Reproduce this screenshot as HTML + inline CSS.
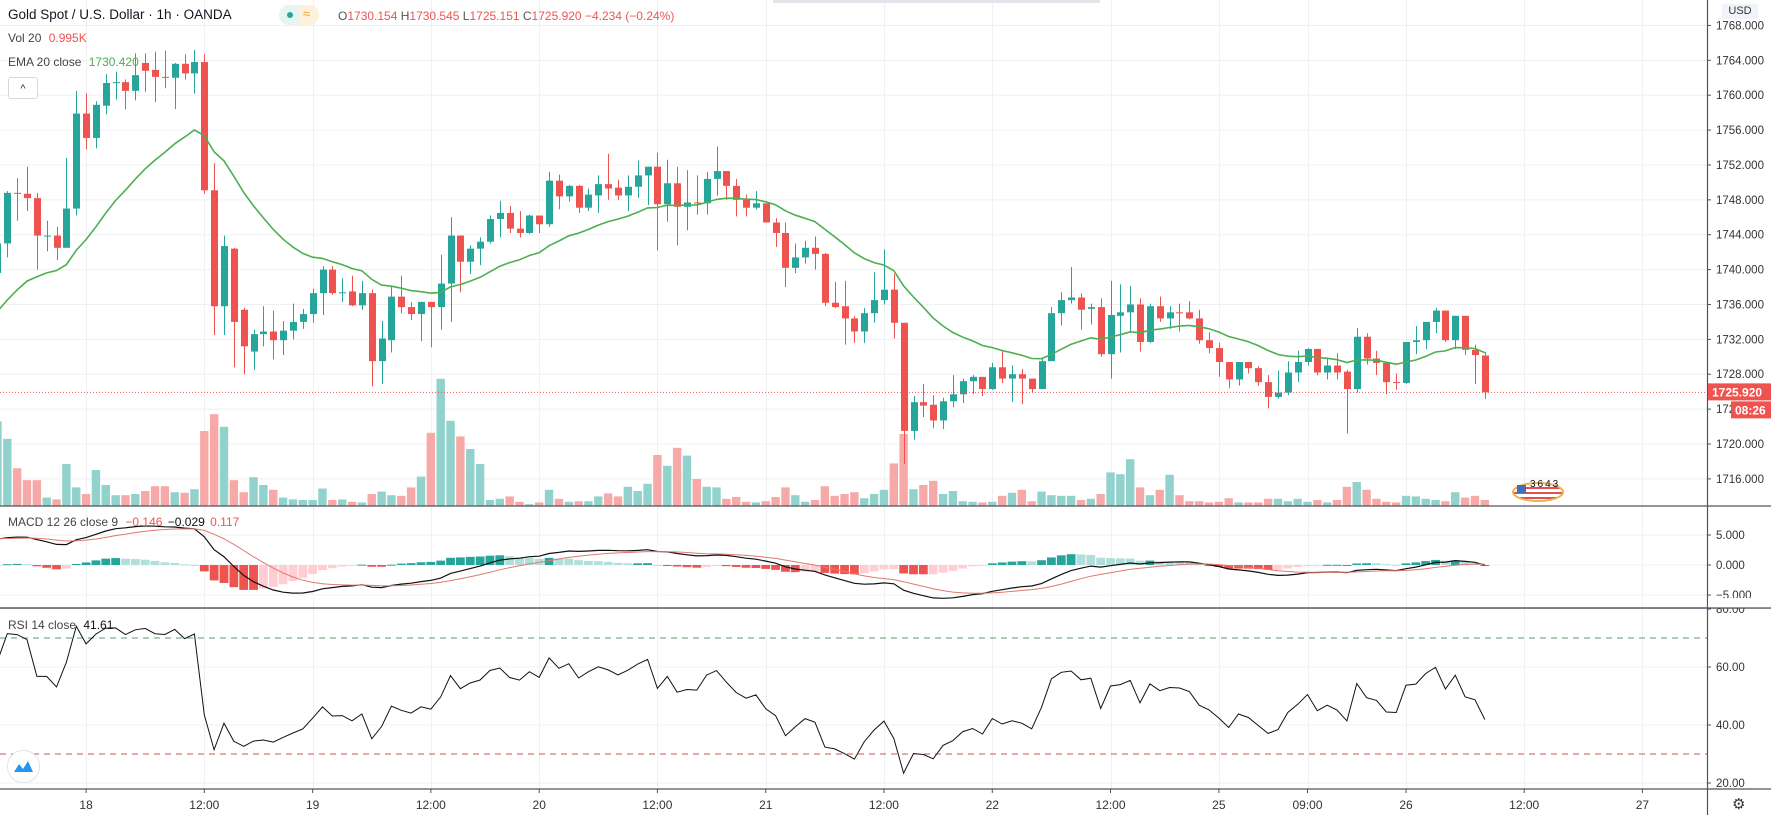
<!DOCTYPE html>
<html><head><meta charset="utf-8">
<style>
html,body{margin:0;padding:0;background:#fff;}
body{width:1771px;height:815px;overflow:hidden;position:relative;font-family:"Liberation Sans",sans-serif;}
svg{position:absolute;left:0;top:0;}
svg text{font-family:"Liberation Sans",sans-serif;}
</style></head>
<body>
<svg id="chart" width="1771" height="815" viewBox="0 0 1771 815" xmlns="http://www.w3.org/2000/svg">
  <g id="grid"></g>
  <g id="volumes"></g>
  <g id="candles"></g>
  <g id="ema"></g>
  <g id="macd"></g>
  <g id="rsi"></g>
  <g id="axes"></g>
</svg>
<script>
// ---- data (1h bars, Gold Spot / USD, OANDA) ----
const opens=[1739.6,1743.0,1748.8,1748.7,1748.2,1743.9,1743.9,1742.5,1747.0,1757.9,
1755.1,1758.8,1761.4,1761.5,1760.5,1763.7,1762.9,1762.1,1762.0,1763.6,
1762.5,1763.8,1749.1,1735.8,1742.4,1735.4,1730.6,1732.6,1732.9,1731.9,
1733.0,1734.0,1734.9,1737.3,1740.0,1737.3,1737.5,1735.9,1737.3,1729.5,
1731.9,1736.9,1735.7,1734.9,1736.3,1735.7,1738.4,1743.9,1740.9,1742.4,
1743.2,1745.8,1746.5,1744.7,1744.2,1746.2,1745.2,1750.2,1748.4,1749.6,
1747.1,1748.5,1749.8,1749.4,1748.5,1749.5,1750.8,1751.8,1747.5,1749.9,
1747.2,1747.7,1747.6,1750.4,1751.3,1749.6,1748.0,1747.1,1747.6,1745.4,
1744.2,1740.2,1741.4,1742.5,1741.8,1736.2,1735.8,1734.4,1732.9,1735.0,
1736.5,1737.7,1733.9,1721.5,1724.8,1724.5,1722.7,1724.9,1725.7,1727.2,
1727.7,1726.3,1728.8,1727.5,1728.0,1727.5,1726.3,1729.5,1735.0,1736.5,
1736.8,1735.5,1735.7,1730.3,1734.7,1735.1,1736.0,1731.7,1735.8,1734.4,
1735.1,1735.1,1734.4,1731.9,1731.0,1729.4,1727.4,1729.4,1728.7,1727.1,
1725.4,1725.9,1728.2,1729.4,1730.9,1728.2,1729.0,1728.3,1726.3,1732.3,
1729.8,1729.3,1727.1,1727.0,1731.7,1731.9,1734.0,1735.3,1731.9,1734.7,
1730.8,1730.154];
const highs=[1744.0,1749.0,1750.5,1751.8,1748.8,1745.6,1744.9,1752.8,1760.5,1760.2,
1759.3,1762.4,1762.7,1761.8,1764.8,1764.8,1765.0,1765.1,1763.7,1764.7,
1765.2,1764.7,1752.2,1743.9,1742.5,1735.6,1733.1,1735.8,1735.3,1734.1,
1736.1,1735.5,1737.8,1740.4,1740.4,1739.0,1739.3,1738.7,1737.7,1734.1,
1738.0,1739.3,1736.3,1736.3,1736.3,1741.7,1746.0,1743.9,1742.8,1743.7,
1746.2,1747.9,1747.3,1746.7,1746.3,1746.2,1751.2,1750.9,1749.7,1749.7,
1749.3,1750.8,1753.3,1750.3,1750.8,1752.5,1751.8,1753.4,1752.6,1751.8,
1751.4,1750.8,1751.2,1754.1,1751.3,1750.4,1748.6,1749.0,1747.6,1745.9,
1745.4,1743.0,1743.3,1743.8,1741.9,1738.6,1738.7,1734.7,1735.6,1739.7,
1742.3,1739.5,1733.9,1725.5,1726.9,1725.6,1725.3,1727.9,1727.5,1727.9,
1727.7,1729.3,1730.7,1729.0,1728.6,1727.5,1729.9,1735.7,1737.4,1740.3,
1737.3,1736.1,1736.7,1738.7,1738.3,1738.1,1736.7,1736.1,1736.9,1735.8,
1736.1,1736.4,1735.4,1732.8,1731.6,1729.4,1729.4,1729.4,1728.9,1727.9,
1728.4,1729.5,1730.7,1731.0,1730.9,1729.9,1730.4,1728.5,1733.3,1732.7,
1730.7,1729.3,1728.1,1731.7,1733.5,1734.0,1735.6,1735.3,1734.7,1734.7,
1731.4,1730.545];
const lows=[1738.8,1741.4,1745.6,1746.7,1740.0,1742.1,1741.1,1742.5,1746.2,1753.8,
1753.9,1757.8,1759.5,1758.4,1759.4,1760.4,1759.2,1760.8,1758.4,1761.8,
1760.2,1748.7,1732.5,1732.5,1728.8,1728.0,1728.5,1731.2,1729.7,1730.2,
1732.0,1733.2,1733.9,1734.8,1737.1,1736.3,1735.8,1735.4,1726.6,1726.9,
1730.5,1735.0,1734.2,1731.8,1731.1,1733.1,1734.0,1737.4,1739.5,1740.5,
1743.0,1743.7,1744.2,1743.7,1744.1,1744.2,1744.9,1746.9,1747.8,1746.5,
1746.7,1746.5,1748.0,1748.0,1746.7,1748.2,1747.4,1742.2,1745.5,1742.8,
1744.5,1746.3,1746.3,1748.5,1748.0,1746.1,1746.1,1746.9,1745.4,1742.6,
1738.0,1739.6,1740.7,1740.0,1735.8,1735.6,1731.4,1731.6,1731.6,1733.9,
1736.0,1732.1,1717.7,1720.5,1723.1,1721.8,1721.7,1724.2,1724.7,1725.7,
1725.5,1726.2,1727.0,1724.8,1724.6,1725.9,1726.3,1729.5,1733.6,1736.1,
1733.1,1733.7,1730.0,1727.5,1730.5,1732.9,1730.6,1731.6,1734.0,1733.2,
1732.9,1734.3,1731.5,1730.4,1727.7,1726.4,1726.7,1728.1,1726.7,1724.1,
1725.2,1725.6,1727.1,1729.0,1727.9,1727.4,1727.4,1721.2,1725.9,1729.1,
1727.9,1725.7,1726.2,1726.9,1730.3,1730.9,1732.7,1731.7,1730.9,1730.2,
1726.9,1725.151];
const closes=[1743.0,1748.8,1748.7,1748.2,1743.9,1743.9,1742.5,1747.0,1757.9,1755.1,
1758.9,1761.4,1761.5,1760.5,1762.3,1762.8,1762.1,1762.0,1763.6,1762.5,
1763.8,1749.1,1735.8,1742.7,1734.0,1731.2,1732.6,1732.9,1731.9,1733.0,
1734.0,1734.9,1737.3,1740.0,1737.3,1737.4,1735.9,1737.3,1729.5,1732.1,
1736.9,1735.7,1734.9,1736.3,1735.7,1738.4,1743.9,1740.9,1742.4,1743.2,
1745.8,1746.5,1744.7,1744.2,1746.2,1745.2,1750.2,1748.4,1749.6,1747.1,
1748.6,1749.8,1749.3,1748.5,1749.5,1750.8,1751.8,1747.5,1749.9,1747.2,
1747.7,1747.6,1750.4,1751.3,1749.6,1748.0,1747.1,1747.6,1745.4,1744.2,
1740.2,1741.4,1742.5,1741.8,1736.2,1735.7,1734.4,1732.9,1735.0,1736.5,
1737.7,1733.9,1721.5,1724.8,1724.4,1722.7,1724.9,1725.7,1727.2,1727.7,
1726.3,1728.8,1727.5,1728.0,1727.5,1726.3,1729.5,1735.0,1736.5,1736.8,
1735.4,1735.7,1730.3,1734.8,1735.1,1736.0,1731.7,1735.8,1734.4,1735.1,
1735.0,1734.4,1731.9,1731.0,1729.4,1727.4,1729.4,1728.7,1727.1,1725.4,
1725.9,1728.2,1729.4,1730.9,1728.2,1729.0,1728.2,1726.3,1732.3,1729.8,
1729.3,1727.1,1727.0,1731.7,1731.9,1734.0,1735.3,1731.9,1734.7,1730.8,
1730.2,1725.92];
const volumesK=[14.1,11.2,6.3,4.3,4.3,1.4,1.1,7.0,3.1,2.0,
6.0,3.5,1.8,1.8,2.0,2.5,3.3,3.3,2.3,2.2,
2.8,12.5,15.3,13.2,4.3,2.3,4.8,3.5,2.7,1.4,
1.1,1.0,1.0,2.9,1.0,1.1,0.7,0.6,2.0,2.4,
1.8,1.7,3.1,4.9,12.2,21.2,14.2,11.6,9.5,7.0,
1.0,1.2,1.6,0.7,0.3,0.6,2.7,1.2,0.7,0.8,
0.8,1.6,2.1,1.6,3.2,2.5,3.7,8.5,6.7,9.7,
8.4,4.5,3.2,3.1,1.2,1.5,0.7,0.6,0.8,1.5,
3.1,1.8,0.7,1.0,3.3,1.7,2.0,2.3,1.3,2.0,
2.7,7.1,12.0,2.8,3.5,4.2,2.0,2.5,0.8,0.7,
0.6,0.7,1.7,2.2,2.7,0.8,2.4,1.8,1.7,1.7,
1.0,1.2,2.0,5.6,5.3,7.8,3.1,1.8,2.7,5.2,
1.8,0.8,0.8,0.6,0.7,1.3,0.6,0.6,0.6,1.2,
1.2,0.8,1.2,0.7,1.0,0.6,1.0,3.2,4.0,2.7,
1.2,0.7,0.6,1.7,1.6,1.2,1.0,0.8,2.3,1.4,
1.7,0.995];
// time-axis labels (bar index, text)
const timeLabelIdx=[9,21,32,44,55,67,78,90,101,113,124,133,143,155,167];
const timeLabelText=["18","12:00","19","12:00","20","12:00","21","12:00","22","12:00","25","09:00","26","12:00","27"];
// axis tick values
const priceTicks=[1768,1764,1760,1756,1752,1748,1744,1740,1736,1732,1728,1724,1720,1716];
const macdTicks=[5,0,-5];
const rsiTicks=[80,60,40,20];
// indicator seed values
const emaSeed=1734.4, ema12Seed=1742.0, ema26Seed=1737.4, signalSeed=4.4;
const rsiGainSeed=0.9, rsiLossSeed=0.55;

// ---- scales ----
const PLOT_R=1707;
const xOf=i=>-2.55+9.85*i;
const yP=p=>444-(p-1720)*8.72;
const yV=v=>506-v*6;
const yM=v=>565-v*6.0;
const yR=v=>667-(v-60)*2.9;
const NS="http://www.w3.org/2000/svg";
function mk(tag,attrs,parent){const e=document.createElementNS(NS,tag);for(const k in attrs)e.setAttribute(k,attrs[k]);parent.appendChild(e);return e;}
const G=id=>document.getElementById(id);
const GREEN="#26a69a",RED="#ef5350";

// ---- grid ----
const grid=G('grid');
priceTicks.forEach(t=>{const l=mk('line',{x1:0,x2:PLOT_R,y1:yP(t),y2:yP(t),stroke:'#eef0f3','stroke-width':1},grid);

});
macdTicks.forEach(t=>{const l=mk('line',{x1:0,x2:PLOT_R,y1:yM(t),y2:yM(t),stroke:'#eef0f3'},grid);

});
rsiTicks.forEach(t=>{const l=mk('line',{x1:0,x2:PLOT_R,y1:yR(t),y2:yR(t),stroke:'#eef0f3'},grid);

});
timeLabelIdx.forEach(i=>{const x=Math.round(xOf(i))+0.5;const l=mk('line',{x1:x,x2:x,y1:0,y2:789,stroke:'#eef0f3'},grid);

});

// ---- volume ----
const vg=G('volumes');
volumesK.forEach((v,i)=>{const up=closes[i]>=opens[i];const x=xOf(i);
const r=mk('rect',{x:x-4.2,y:yV(v),width:8.4,height:506-yV(v),fill:up?'#92d2cc':'#f7a9a7'},vg);

});

// ---- candles ----
const cg=G('candles');
closes.forEach((c,i)=>{const o=opens[i],up=c>=o,col=up?GREEN:RED,x=Math.round(xOf(i));
const w=mk('line',{x1:x+0.5,x2:x+0.5,y1:yP(highs[i]),y2:yP(lows[i]),stroke:col,'stroke-width':1},cg);


const top=yP(Math.max(o,c)),bot=yP(Math.min(o,c));
const b=mk('rect',{x:x-3,y:top,width:7,height:Math.max(1,bot-top),fill:col},cg);

});

// ---- EMA 20 ----
let e=emaSeed;const emaVals=closes.map(c=>(e=e+(c-e)*2/21));
const ep=mk('polyline',{points:emaVals.map((v,i)=>xOf(i).toFixed(1)+','+yP(v).toFixed(1)).join(' '),fill:'none',stroke:'#4caf50','stroke-width':1.6},G('ema'));



// price line
const pl=mk('line',{x1:0,x2:PLOT_R,y1:yP(closes[closes.length-1]),y2:yP(closes[closes.length-1]),stroke:'#ef5350','stroke-width':1,'stroke-dasharray':'1,2'},G('ema'));



// ---- MACD ----
let e12=ema12Seed,e26=ema26Seed,sg=signalSeed;const macdV=[],sigV=[],histV=[];
closes.forEach(c=>{e12+=(c-e12)*2/13;e26+=(c-e26)*2/27;const m=e12-e26;sg+=(m-sg)*2/10;macdV.push(m);sigV.push(sg);histV.push(m-sg);});
const mg=G('macd');
histV.forEach((h,i)=>{const prev=i?histV[i-1]:h;let col;
if(h>=0)col=h>=prev?GREEN:'#b2dfdb';else col=h<prev?RED:'#ffcdd2';
const y0=yM(0),y1=yM(h);
const r=mk('rect',{x:xOf(i)-4.4,y:Math.min(y0,y1),width:8.8,height:Math.max(1,Math.abs(y1-y0)),fill:col},mg);

});
const ml=mk('polyline',{points:macdV.map((v,i)=>xOf(i).toFixed(1)+','+yM(v).toFixed(1)).join(' '),fill:'none',stroke:'#111','stroke-width':1.2},mg);


const sl=mk('polyline',{points:sigV.map((v,i)=>xOf(i).toFixed(1)+','+yM(v).toFixed(1)).join(' '),fill:'none',stroke:'#e0786f','stroke-width':1},mg);



// ---- RSI ----
const rg=G('rsi');
let ag=rsiGainSeed,al=rsiLossSeed;const rsiV=[];
closes.forEach((c,i)=>{const d=i?c-closes[i-1]:0;ag=(ag*13+Math.max(d,0))/14;al=(al*13+Math.max(-d,0))/14;rsiV.push(100-100/(1+ag/al));});
const u70=mk('line',{x1:0,x2:PLOT_R,y1:yR(70),y2:yR(70),stroke:'#5d9c6a','stroke-dasharray':'6,5'},rg);


const l30=mk('line',{x1:0,x2:PLOT_R,y1:yR(30),y2:yR(30),stroke:'#c9574f','stroke-dasharray':'6,5'},rg);


const rl=mk('polyline',{points:rsiV.map((v,i)=>xOf(i).toFixed(1)+','+yR(v).toFixed(1)).join(' '),fill:'none',stroke:'#111','stroke-width':1},rg);



// ---- axes ----
const ax=G('axes');
mk('rect',{x:PLOT_R,y:0,width:64,height:815,fill:'#fff'},ax);
mk('rect',{x:0,y:789,width:1771,height:26,fill:'#fff'},ax);
[[0,506,1771,506],[0,608,1771,608],[0,789,1771,789],[PLOT_R+0.5,0,PLOT_R+0.5,815]].forEach(a=>{
const l=mk('line',{x1:a[0],y1:a[1],x2:a[2],y2:a[3],stroke:'#50535e','stroke-width':1.2},ax);

});
function axisLabel(y,txt,name){mk('line',{x1:PLOT_R,x2:PLOT_R+4,y1:y,y2:y,stroke:'#50535e'},ax);
const tx=mk('text',{x:1716,y:y+4,'font-size':11.5,fill:'#333'},ax);tx.textContent=txt;

}
priceTicks.forEach(t=>axisLabel(yP(t),t.toFixed(3),'price-axis-label'));
macdTicks.forEach(t=>axisLabel(yM(t),(t<0?'\u2212':'')+Math.abs(t).toFixed(3),'macd-axis-label'));
rsiTicks.forEach(t=>axisLabel(yR(t),t.toFixed(2),'rsi-axis-label'));
mk('rect',{x:PLOT_R+1,y:598,width:63,height:10,fill:'#fff'},ax);
mk('line',{x1:0,y1:608,x2:1771,y2:608,stroke:'#50535e','stroke-width':1.2},ax);
timeLabelIdx.forEach((i,k)=>{const x=xOf(i);mk('line',{x1:x,x2:x,y1:789,y2:793,stroke:'#50535e'},ax);
const t=mk('text',{x:x,y:809,'font-size':12,fill:'#333','text-anchor':'middle'},ax);t.textContent=timeLabelText[k];

});
const lp=closes[closes.length-1];
const pt=mk('g',{},ax);
mk('rect',{x:PLOT_R+1,y:yP(lp)-9,width:63,height:17,fill:'#ef5350'},pt);
const ptt=mk('text',{x:1712,y:yP(lp)+4,'font-size':12,'font-weight':'bold',fill:'#fff'},pt);ptt.textContent=lp.toFixed(3);
const ct=mk('g',{},ax);
mk('rect',{x:1731,y:yP(lp)+9,width:40,height:17,fill:'#ef5350'},ct);
const ctt=mk('text',{x:1735,y:yP(lp)+22,'font-size':12,'font-weight':'bold',fill:'#fff'},ct);ctt.textContent='08:26';
</script>

<div style="position:absolute;left:8px;top:7px;font-size:13.5px;color:#131722;white-space:nowrap;">Gold Spot / U.S. Dollar · 1h · OANDA</div>
<div style="position:absolute;left:279px;top:5px;width:40px;height:20px;border-radius:10px;background:linear-gradient(90deg,#e6f4f2 50%,#fdf1dc 50%);"><span style="position:absolute;left:8px;top:7px;width:6px;height:6px;border-radius:3px;background:#26a69a"></span><span style="position:absolute;left:24px;top:1px;font-size:13px;color:#f0a030">≈</span></div>
<div style="position:absolute;left:338px;top:9px;font-size:12px;color:#ef5350;white-space:nowrap;"><span style="color:#555">O</span>1730.154 <span style="color:#555">H</span>1730.545 <span style="color:#555">L</span>1725.151 <span style="color:#555">C</span>1725.920 −4.234 (−0.24%)</div>
<div style="position:absolute;left:8px;top:31px;font-size:12px;color:#444;white-space:nowrap;">Vol 20 <span style="color:#ef5350;margin-left:4px">0.995K</span></div>
<div style="position:absolute;left:8px;top:55px;font-size:12px;color:#444;white-space:nowrap;">EMA 20 close <span style="color:#4caf50;margin-left:4px">1730.420</span></div>
<div style="position:absolute;left:8px;top:77px;width:28px;height:20px;border:1px solid #d6d8dd;border-radius:3px;background:#fff;font-size:11px;text-align:center;line-height:22px;color:#333;">^</div>
<div style="position:absolute;left:8px;top:515px;font-size:12px;color:#444;white-space:nowrap;">MACD 12 26 close 9 <span style="color:#ef5350;margin-left:4px">−0.146</span> <span style="color:#111;margin-left:2px">−0.029</span> <span style="color:#ef5350;margin-left:2px">0.117</span></div>
<div style="position:absolute;left:8px;top:618px;font-size:12px;color:#444;white-space:nowrap;">RSI 14 close <span style="color:#111;margin-left:4px">41.61</span></div>
<div style="position:absolute;left:1722px;top:4px;width:36px;height:15px;background:#f0f3fa;font-size:11px;color:#333;text-align:center;line-height:15px;">USD</div>
<div style="position:absolute;left:773px;top:0;width:327px;height:3px;background:#e3e5ea;"></div>
<div style="position:absolute;left:7px;top:750px;width:31px;height:31px;border-radius:16px;border:1px solid #e0e3eb;background:#fff;">
<svg width="31" height="31" viewBox="0 0 31 31"><path d="M6 21 L11 13 L15 18 L20 10 L25 21 Z" fill="#2196f3"/></svg></div>
<div style="position:absolute;left:1512px;top:480px;width:53px;height:23px;">
<div style="position:absolute;left:0;top:2px;width:52px;height:20px;border-radius:50%;border:2px solid #f0b050;box-sizing:border-box;background:repeating-linear-gradient(180deg,#fff 0 3px,#e05050 3px 5px);"></div>
<div style="position:absolute;left:5px;top:5px;width:9px;height:8px;background:#3a6fc4;"></div>
<div style="position:absolute;left:18px;top:-1px;font-size:10px;color:#111;letter-spacing:2px;">3643</div></div>
<div style="position:absolute;left:1732px;top:795px;font-size:15px;color:#333;">⚙</div>
</body></html>
